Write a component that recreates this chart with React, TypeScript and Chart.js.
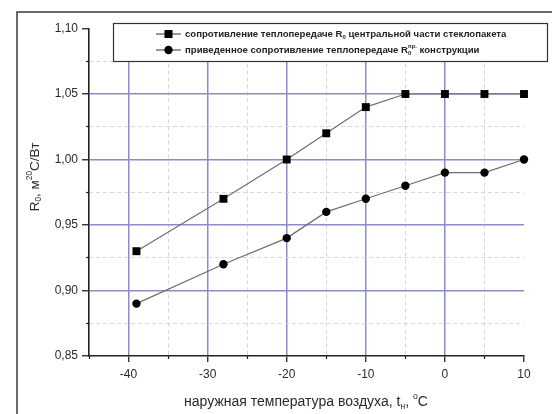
import React, { useEffect, useRef } from "react";
import { Chart, registerables } from "chart.js";

Chart.register(...registerables);

// ---- data ----
const temps = [-39, -28, -20, -15, -10, -5, 0, 5, 10];
const rCentral = [0.93, 0.97, 1.0, 1.02, 1.04, 1.05, 1.05, 1.05, 1.05];
const rReduced = [0.89, 0.92, 0.94, 0.96, 0.97, 0.98, 0.99, 0.99, 1.0];
const xMajorTicks = [-40, -30, -20, -10, 0, 10];
const xMinorTicks = [-45, -35, -25, -15, -5, 5];
const yMajorTicks = [0.85, 0.9, 0.95, 1.0, 1.05, 1.1];
const yMinorTicks = [0.875, 0.925, 0.975, 1.025, 1.075];

type Seg = { t: string; s?: "sub" | "sup"; keep?: boolean };

const FONT = "'Liberation Sans', Arial, sans-serif";

function drawRich(
  ctx: CanvasRenderingContext2D,
  segs: Seg[],
  x: number,
  y: number,
  size: number,
  color: string,
  align: "left" | "center",
  weight = "normal"
) {
  const small = size * 0.62;
  const widthOf = (sg: Seg) => {
    ctx.font = `${weight} ${sg.s ? small : size}px ${FONT}`;
    return ctx.measureText(sg.t).width;
  };
  let total = 0;
  let pending = 0;
  segs.forEach((sg) => {
    const w = widthOf(sg);
    if (sg.keep) {
      pending = w;
    } else {
      total += Math.max(w, pending);
      pending = 0;
    }
  });
  total += pending;
  let cx = align === "center" ? x - total / 2 : x;
  ctx.fillStyle = color;
  ctx.textBaseline = "middle";
  ctx.textAlign = "left";
  pending = 0;
  segs.forEach((sg) => {
    const w = widthOf(sg);
    let dy = 0;
    if (sg.s === "sub") dy = size * 0.3;
    if (sg.s === "sup") dy = -size * 0.38;
    ctx.fillText(sg.t, cx, y + dy);
    if (sg.keep) {
      pending = w;
    } else {
      cx += Math.max(w, pending);
      pending = 0;
    }
  });
}

const decorPlugin = {
  id: "decor",
  beforeDraw(chart: any) {
    const ctx = chart.ctx as CanvasRenderingContext2D;
    ctx.save();
    ctx.fillStyle = "#ffffff";
    ctx.fillRect(0, 0, chart.width, chart.height);
    ctx.strokeStyle = "#3a3a3a";
    ctx.lineWidth = 1.5;
    ctx.beginPath();
    ctx.moveTo(17, chart.height);
    ctx.lineTo(17, 12);
    ctx.lineTo(chart.width, 12);
    ctx.stroke();
    ctx.restore();
  },
  afterDraw(chart: any) {
    const ctx = chart.ctx as CanvasRenderingContext2D;
    ctx.save();
    // x title
    drawRich(
      ctx,
      [
        { t: "наружная температура воздуха, t" },
        { t: "н", s: "sub" },
        { t: ", " },
        { t: "o", s: "sup" },
        { t: "C" },
      ],
      306,
      402,
      14,
      "#2a2a2a",
      "center"
    );
    // y title
    ctx.save();
    ctx.translate(35, 177);
    ctx.rotate(-Math.PI / 2);
    drawRich(
      ctx,
      [
        { t: "R" },
        { t: "0", s: "sub" },
        { t: ", м" },
        { t: "2", s: "sup" },
        { t: "0", s: "sup" },
        { t: "C/Вт" },
      ],
      0,
      0,
      13.5,
      "#2a2a2a",
      "center"
    );
    ctx.restore();

    // legend
    const bx = 113.5,
      by = 23.5,
      bw = 434,
      bh = 38;
    ctx.fillStyle = "#ffffff";
    ctx.fillRect(bx, by, bw, bh);
    ctx.strokeStyle = "#333";
    ctx.lineWidth = 1.2;
    ctx.strokeRect(bx, by, bw, bh);
    const rows = [34, 50];
    rows.forEach((ry, i) => {
      ctx.strokeStyle = "#333";
      ctx.lineWidth = 1;
      ctx.beginPath();
      ctx.moveTo(156, ry);
      ctx.lineTo(181, ry);
      ctx.stroke();
      ctx.fillStyle = "#000";
      if (i === 0) {
        ctx.fillRect(164.5, ry - 4, 8, 8);
      } else {
        ctx.beginPath();
        ctx.arc(168.5, ry, 4.2, 0, Math.PI * 2);
        ctx.fill();
      }
    });
    drawRich(
      ctx,
      [
        { t: "сопротивление теплопередаче R" },
        { t: "0", s: "sub" },
        { t: " центральной части стеклопакета" },
      ],
      185,
      rows[0],
      9.6,
      "#222",
      "left",
      "bold"
    );
    drawRich(
      ctx,
      [
        { t: "приведенное сопротивление теплопередаче R" },
        { t: "0", s: "sub", keep: true },
        { t: "пр.", s: "sup" },
        { t: " конструкции" },
      ],
      185,
      rows[1],
      9.6,
      "#222",
      "left",
      "bold"
    );
    ctx.restore();
  },
};

const BLUE = "rgb(140,140,205)";
const MINOR = "rgba(205,205,205,0.8)";
const AXIS = "#222";

export default function App() {
  const ref = useRef<HTMLCanvasElement | null>(null);

  useEffect(() => {
    document.body.style.margin = "0";
    const canvas = ref.current;
    if (!canvas) return;
    const tickFont = { family: FONT, size: 12 };
    const chart = new Chart(canvas, {
      type: "line",
      data: {
        datasets: [
          {
            label: "сопротивление теплопередаче R0 центральной части стеклопакета",
            data: temps.map((t, i) => ({ x: t, y: rCentral[i] })),
            borderColor: "#6e6e6e",
            borderWidth: 1.2,
            pointStyle: "rect",
            pointRadius: 5.6,
            pointBackgroundColor: "#000",
            pointBorderColor: "#000",
            pointBorderWidth: 0,
            clip: false as any,
          },
          {
            label: "приведенное сопротивление теплопередаче R0пр. конструкции",
            data: temps.map((t, i) => ({ x: t, y: rReduced[i] })),
            borderColor: "#6e6e6e",
            borderWidth: 1.2,
            pointStyle: "circle",
            pointRadius: 4.2,
            pointBackgroundColor: "#000",
            pointBorderColor: "#000",
            pointBorderWidth: 0,
            clip: false as any,
          },
        ],
      },
      options: {
        animation: false,
        responsive: false,
        layout: { padding: { left: 0, right: 28, top: 28.5, bottom: 0 } },
        plugins: {
          legend: { display: false },
          tooltip: { enabled: false },
        },
        scales: {
          x: {
            type: "linear",
            position: "bottom",
            weight: 1,
            min: -45,
            max: 10,
            afterBuildTicks: (s: any) => {
              s.ticks = xMajorTicks.map((v) => ({ value: v }));
            },
            afterFit: (s: any) => {
              s.height = 58;
            },
            ticks: {
              font: tickFont,
              color: "#2a2a2a",
              padding: 5,
              maxRotation: 0,
              autoSkip: false,
              callback: (v: any) => String(v),
            },
            grid: {
              color: (c: any) =>
                c.tick && c.tick.value > -45 && c.tick.value < 10 ? BLUE : "rgba(0,0,0,0)",
              lineWidth: 1.5,
              tickColor: AXIS,
              tickLength: 6,
              tickWidth: 1.3,
            },
            border: { color: AXIS, width: 1.6 },
          },
          x2: {
            type: "linear",
            position: "bottom",
            weight: 0,
            min: -45,
            max: 10,
            afterBuildTicks: (s: any) => {
              s.ticks = xMinorTicks.map((v) => ({ value: v }));
            },
            afterFit: (s: any) => {
              s.height = 0;
            },
            ticks: { display: false },
            grid: {
              color: (c: any) =>
                c.tick && c.tick.value > -45 ? MINOR : "rgba(0,0,0,0)",
              lineWidth: 1,
              tickColor: AXIS,
              tickLength: 3,
              tickWidth: 1.2,
            },
            border: { display: false, dash: [4, 3] },
          },
          y: {
            type: "linear",
            position: "left",
            weight: 1,
            min: 0.85,
            max: 1.1,
            afterBuildTicks: (s: any) => {
              s.ticks = yMajorTicks.map((v) => ({ value: v }));
            },
            afterFit: (s: any) => {
              s.width = 89;
            },
            ticks: {
              font: tickFont,
              color: "#2a2a2a",
              padding: 4,
              autoSkip: false,
              callback: (v: any) => Number(v).toFixed(2).replace(".", ","),
            },
            grid: {
              color: (c: any) =>
                c.tick && c.tick.value > 0.86 && c.tick.value < 1.09 ? BLUE : "rgba(0,0,0,0)",
              lineWidth: 1.5,
              tickColor: AXIS,
              tickLength: 7,
              tickWidth: 1.3,
            },
            border: { color: AXIS, width: 1.6 },
          },
          y2: {
            type: "linear",
            position: "left",
            weight: 0,
            min: 0.85,
            max: 1.1,
            afterBuildTicks: (s: any) => {
              s.ticks = yMinorTicks.map((v) => ({ value: v }));
            },
            afterFit: (s: any) => {
              s.width = 0;
            },
            ticks: { display: false },
            grid: {
              color: MINOR,
              lineWidth: 1,
              tickColor: AXIS,
              tickLength: 3,
              tickWidth: 1.2,
            },
            border: { display: false, dash: [4, 3] },
          },
        },
      } as any,
      plugins: [decorPlugin],
    });
    return () => chart.destroy();
  }, []);

  return (
    <div style={{ width: 552, height: 414 }}>
      <canvas ref={ref} width={552} height={414} style={{ display: "block" }} />
    </div>
  );
}
